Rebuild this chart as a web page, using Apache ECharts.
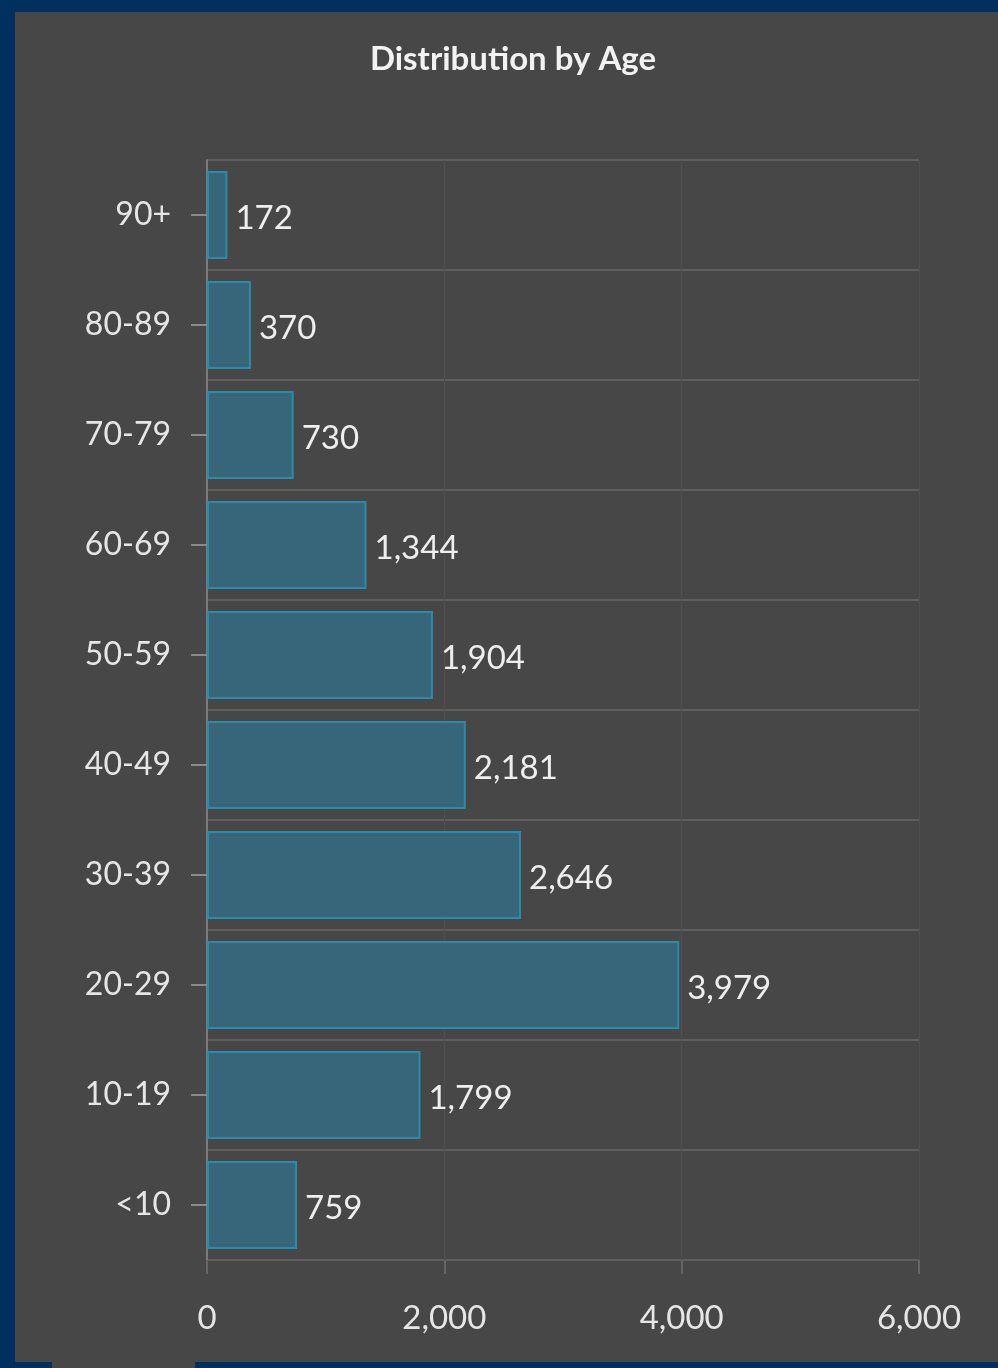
<!DOCTYPE html>
<html>
<head>
<meta charset="utf-8">
<script src="https://cdn.jsdelivr.net/npm/echarts@6/dist/echarts.min.js"></script>
<style>
  html, body { margin: 0; padding: 0; background: #00305f; }
  #chart { width: 998px; height: 1368px; }
</style>
</head>
<body>
<div id="chart"></div>
<script>
// Age groups, listed bottom to top
const ageGroups = ['<10', '10-19', '20-29', '30-39', '40-49', '50-59', '60-69', '70-79', '80-89', '90+'];
// Number of people in each age group
const counts = [759, 1799, 3979, 2646, 2181, 1904, 1344, 730, 370, 172];
// Value axis ticks
const xTicks = [0, 2000, 4000, 6000];

const FONT = 'Lato, "Noto Sans", sans-serif';
const chart = echarts.init(document.getElementById('chart'), null, { renderer: 'canvas' });

chart.setOption({
  backgroundColor: '#00305f',
  animation: false,
  graphic: [{
    type: 'rect',
    z: -10,
    silent: true,
    shape: { x: 15, y: 12, width: 983, height: 1350 },
    style: { fill: '#474747' }
  }, {
    type: 'rect',
    z: -10,
    silent: true,
    shape: { x: 52, y: 1362, width: 143, height: 6 },
    style: { fill: '#474747' }
  }],
  title: {
    text: 'Distribution by Age',
    left: 508,
    top: 38,
    textAlign: 'center',
    textStyle: { color: '#f2f2f2', fontFamily: FONT, fontWeight: 'bold', fontSize: 33 }
  },
  grid: { left: 207, right: 79, top: 160, bottom: 108, containLabel: false },
  xAxis: {
    type: 'value',
    min: xTicks[0],
    max: xTicks[xTicks.length - 1],
    interval: 2000,
    axisLine: { show: false },
    axisTick: { show: true, length: 14, lineStyle: { color: '#666', width: 2 } },
    axisLabel: {
      color: '#e6e6e6', fontFamily: FONT, fontSize: 33, margin: 42,
      formatter: v => v.toLocaleString('en-US')
    },
    splitLine: { show: true, lineStyle: { color: '#4f4f4f', width: 1 } }
  },
  yAxis: {
    type: 'category',
    data: ageGroups,
    axisLine: { show: true, lineStyle: { color: '#7a7a7a', width: 2 } },
    axisTick: { show: true, alignWithLabel: true, length: 16, lineStyle: { color: '#8a8a8a', width: 2 } },
    axisLabel: { color: '#e6e6e6', fontFamily: FONT, fontSize: 32, margin: 36, padding: [0, 0, 8, 0] },
    splitLine: { show: true, lineStyle: { color: '#5e5e5e', width: 2 } }
  },
  series: [{
    type: 'bar',
    data: counts,
    barWidth: 88,
    itemStyle: { color: '#37657a', borderColor: '#2a8cab', borderWidth: 2 },
    label: {
      show: true,
      position: 'right',
      distance: 8,
      offset: [0, 3],
      color: '#eeeeee',
      fontFamily: FONT,
      fontSize: 33,
      formatter: p => p.value.toLocaleString('en-US')
    }
  }]
});
</script>
</body>
</html>
